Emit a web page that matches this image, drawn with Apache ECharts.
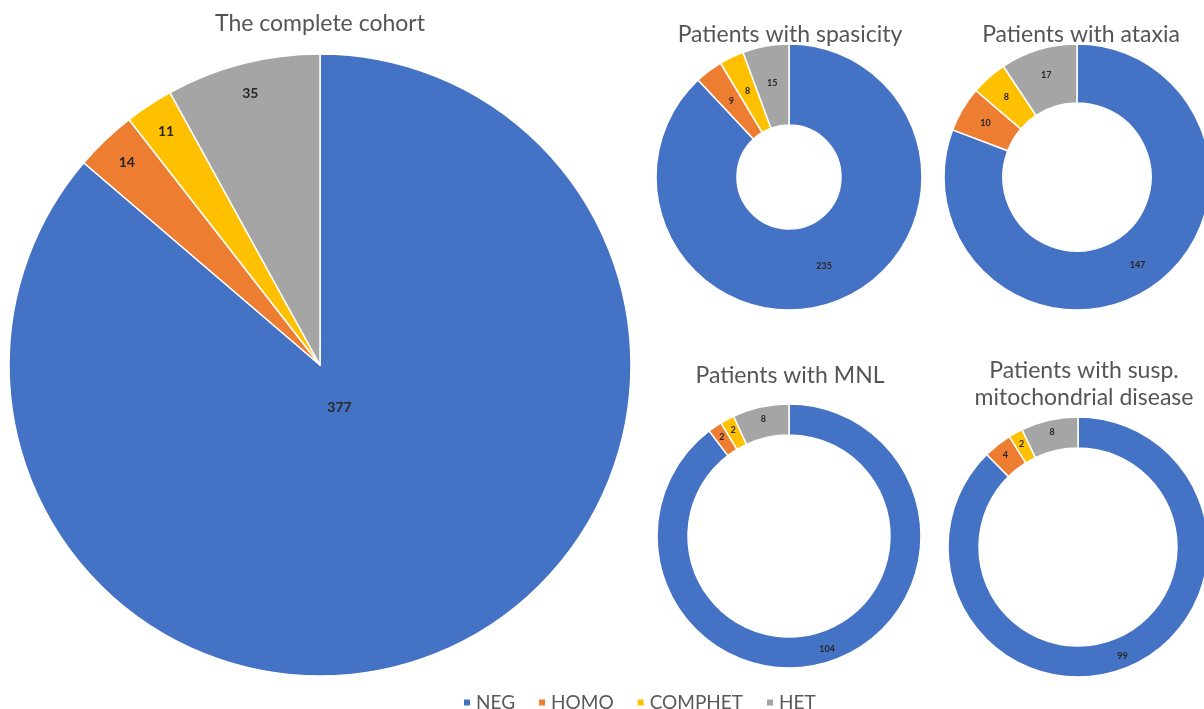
<!DOCTYPE html>
<html>
<head>
<meta charset="utf-8">
<script src="https://cdn.jsdelivr.net/npm/echarts@6/dist/echarts.min.js"></script>
<style>
html,body{margin:0;padding:0;background:#fff;}
#chart{width:1204px;height:709px;}
</style>
</head>
<body>
<div id="chart"></div>
<script>
const categories = ['NEG', 'HOMO', 'COMPHET', 'HET'];
const cohortValues = [377, 14, 11, 35];
const spasticityValues = [235, 9, 8, 15];
const ataxiaValues = [147, 10, 8, 17];
const mnlValues = [104, 2, 2, 8];
const mitoValues = [99, 4, 2, 8];

const colors = ['#4472C4', '#ED7D31', '#FFC000', '#A5A5A5'];
const FONT = 'Lato';

function toData(vals) {
  return categories.map((c, i) => ({ name: c, value: vals[i] }));
}

const BIG = { cx: 320, cy: 365, r: 311 };

function pie(vals, center, radius, fontSize) {
  return {
    type: 'pie',
    center: center,
    radius: radius,
    startAngle: 90,
    clockwise: true,
    silent: true,
    animation: false,
    data: toData(vals),
    itemStyle: { borderColor: '#ffffff', borderWidth: 1.5 },
    label: {
      show: true,
      position: 'inside',
      formatter: '{c}',
      fontFamily: FONT,
      fontWeight: 'bold',
      fontSize: fontSize,
      color: '#262626'
    },
    labelLine: { show: false }
  };
}

const bigSeries = pie(cohortValues, [BIG.cx, BIG.cy], [0, BIG.r], 14);
// place labels radially like the original: main slice near centre, small slices near the rim
bigSeries.labelLayout = function (params) {
  const lr = params.labelRect;
  const lx = lr.x + lr.width / 2, ly = lr.y + lr.height / 2;
  const vx = lx - BIG.cx, vy = ly - BIG.cy;
  const d = Math.hypot(vx, vy) || 1;
  const target = params.dataIndex === 0 ? 0.15 * BIG.r : 0.9 * BIG.r;
  return {
    x: BIG.cx + vx / d * target,
    y: BIG.cy + vy / d * target,
    align: 'center',
    verticalAlign: 'middle'
  };
};

const titleStyle = (size) => ({ fontFamily: FONT, fontSize: size, fontWeight: 'normal', color: '#555555' });

const option = {
  animation: false,
  color: colors,
  title: [
    { text: 'The complete cohort', left: 315, top: 7, textAlign: 'center', textStyle: titleStyle(23) },
    { text: 'Patients with spasicity', left: 785, top: 18, textAlign: 'center', textStyle: titleStyle(23) },
    { text: 'Patients with ataxia', left: 1076, top: 18, textAlign: 'center', textStyle: titleStyle(23) },
    { text: 'Patients with MNL', left: 785, top: 359, textAlign: 'center', textStyle: titleStyle(23) },
    { text: 'Patients with susp.\nmitochondrial disease', left: 1079, top: 352, textAlign: 'center',
      textStyle: Object.assign(titleStyle(23), { lineHeight: 27 }) }
  ],
  legend: {
    data: categories,
    left: 457,
    top: 688,
    icon: 'rect',
    itemWidth: 8,
    itemHeight: 8,
    itemGap: 22,
    textStyle: { fontFamily: FONT, fontSize: 19, color: '#595959' },
    selectedMode: false
  },
  series: [
    bigSeries,
    pie(spasticityValues, [789, 177], [52, 133], 9),
    pie(ataxiaValues, [1077, 177], [74, 133], 9),
    pie(mnlValues, [789, 536], [101, 132], 9),
    pie(mitoValues, [1078, 547], [99, 130], 9)
  ]
};

const chart = echarts.init(document.getElementById('chart'), null, { renderer: 'canvas' });
chart.setOption(option);
</script>
</body>
</html>
